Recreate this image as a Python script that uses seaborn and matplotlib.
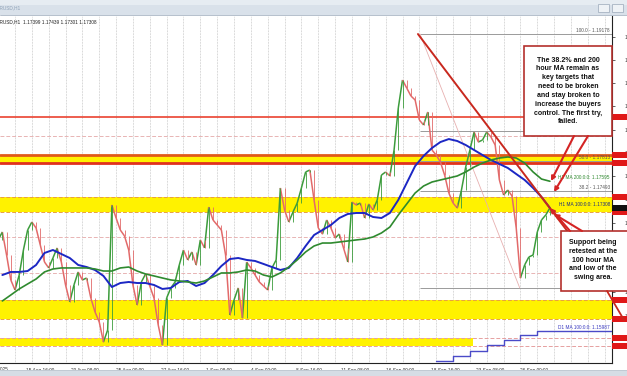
import numpy as np
import matplotlib
matplotlib.use("Agg")
import matplotlib.pyplot as plt
import matplotlib.transforms as mtransforms
from matplotlib.patches import Rectangle
from matplotlib.collections import LineCollection
import seaborn as sns

sns.set_style("white")
plt.rcParams['font.family'] = ['Liberation Sans', 'DejaVu Sans']

# ---------------- data (EURUSD H1) ----------------
candle_start_hour = -18
candle_step_hours = 6
first_open = 1.16964
close = [1.17050, 1.16802, 1.16534, 1.16426, 1.16587, 1.16856, 1.17071, 1.17157, 1.17093, 1.16910,
         1.16727, 1.16663, 1.16770, 1.16878, 1.16727, 1.16480, 1.16297, 1.16480, 1.16620, 1.16534,
         1.16555, 1.16340, 1.16190, 1.16082, 1.15867, 1.15996, 1.17340, 1.17200, 1.17071, 1.17007,
         1.16856, 1.16480, 1.16265, 1.16512, 1.16598, 1.16469, 1.16340, 1.16050, 1.15835, 1.16340,
         1.16448, 1.16512, 1.16695, 1.16856, 1.16749, 1.16835, 1.16695, 1.16964, 1.16878, 1.17318,
         1.17179, 1.17125, 1.17071, 1.16802, 1.16157, 1.16319, 1.16448, 1.16125, 1.16727, 1.16663,
         1.16587, 1.16512, 1.16469, 1.16426, 1.16663, 1.16749, 1.17523, 1.17286, 1.17157, 1.17265,
         1.17361, 1.17523, 1.17695, 1.17716, 1.17394, 1.17093, 1.17028, 1.17179, 1.17093, 1.16985,
         1.17028, 1.16878, 1.16727, 1.17372, 1.17340, 1.17361, 1.17200, 1.17351, 1.17286, 1.17394,
         1.17662, 1.17695, 1.17652, 1.17931, 1.18383, 1.18684, 1.18598, 1.18512, 1.18469, 1.18254,
         1.18200, 1.18340, 1.17931, 1.17877, 1.17802, 1.17662, 1.17469, 1.17361, 1.17308, 1.17501,
         1.17748, 1.17931, 1.18125, 1.18017, 1.18039, 1.18125, 1.18071, 1.17985, 1.17609, 1.17447,
         1.17501, 1.17437, 1.17093, 1.16555, 1.16695, 1.16781, 1.16802, 1.17050, 1.17179, 1.17232,
         1.17308]

ma_start_hour = -18
ma_step_hours = 12
h1_ma100 = [1.16587, 1.16620, 1.16620, 1.16630, 1.16695, 1.16824, 1.16856, 1.16813, 1.16770, 1.16695,
            1.16673, 1.16641, 1.16577, 1.16458, 1.16501, 1.16512, 1.16501, 1.16501, 1.16480, 1.16437,
            1.16448, 1.16512, 1.16523, 1.16469, 1.16501, 1.16587, 1.16684, 1.16759, 1.16770, 1.16749,
            1.16738, 1.16706, 1.16673, 1.16641, 1.16663, 1.16770, 1.16899, 1.17017, 1.17071, 1.17125,
            1.17200, 1.17243, 1.17254, 1.17254, 1.17211, 1.17200, 1.17254, 1.17394, 1.17576, 1.17759,
            1.17867, 1.17953, 1.18017, 1.18049, 1.18028, 1.17985, 1.17931, 1.17877, 1.17824, 1.17781,
            1.17738, 1.17673, 1.17609, 1.17523, 1.17426, 1.17308]
h1_ma200 = [1.16308, 1.16372, 1.16437, 1.16491, 1.16544, 1.16620, 1.16652, 1.16663, 1.16663, 1.16663,
            1.16663, 1.16652, 1.16630, 1.16630, 1.16663, 1.16673, 1.16630, 1.16598, 1.16577, 1.16555,
            1.16534, 1.16523, 1.16512, 1.16501, 1.16523, 1.16566, 1.16609, 1.16609, 1.16620, 1.16641,
            1.16630, 1.16587, 1.16566, 1.16609, 1.16673, 1.16749, 1.16835, 1.16899, 1.16931, 1.16931,
            1.16942, 1.16953, 1.16964, 1.16974, 1.16996, 1.17039, 1.17103, 1.17232, 1.17351, 1.17469,
            1.17544, 1.17587, 1.17609, 1.17630, 1.17652, 1.17695, 1.17748, 1.17791, 1.17824, 1.17845,
            1.17856, 1.17845, 1.17791, 1.17695, 1.17619, 1.17595]

d1_day_hours = [600, 624, 648, 672, 696, 720, 744]
d1_ma100 = [1.15663, 1.15717, 1.15770, 1.15835, 1.15889, 1.15942, 1.15987]

tick_hours = [16, 80, 144, 208, 272, 336, 400, 464, 528, 592, 656, 720]
tick_labels = ["15 Aug 16:00", "20 Aug 08:00", "25 Aug 00:00", "27 Aug 16:00", "1 Sep 08:00",
               "4 Sep 00:00", "8 Sep 16:00", "11 Sep 08:00", "16 Sep 00:00", "18 Sep 16:00",
               "23 Sep 08:00", "26 Sep 00:00"]
first_label_hour = -48
first_label = "13 Aug 2025"

red_level = 1.18286
top_band = [1.17791, 1.17877]
band_2 = [1.17262, 1.17430]
band_3 = [1.16114, 1.16319]
band_4 = [1.15824, 1.15911]
band_4_end_hour = 652
pink_dashed_levels = [1.18081, 1.16996, 1.16609]

fib_names = ["100.0", "61.8", "50.0", "38.2", "0.0"]
fib_levels = [1.19178, 1.18136, 1.17813, 1.17493, 1.16448]
fib_start_hour = 577
fib_low_hour = 719
trend_start = [574, 1.19178]
trend_end = [850.4, 1.16426]

ma200_label = "H1 MA 200:0:0: 1.17595"
ma100_label = "H1 MA 100:0:0: 1.17308"
d1_label = "D1 MA 100:0:0: 1.15987"
header_text = "EURUSD,H1  1.17399 1.17439 1.17301 1.17308"

# ---------------- figure ----------------
W, H = 627, 376
fig = plt.figure(figsize=(W / 100, H / 100), dpi=100)
fig.patch.set_facecolor("white")

ax = fig.add_axes([0, 1 - 363 / H, 612 / W, (363 - 16) / H])
xmin, xmax = -21.37, 850.43
ymin, ymax = 1.15641, 1.19372
ax.set_xlim(xmin, xmax)
ax.set_ylim(ymin, ymax)
ax.set_facecolor("white")

# vertical day grid (dotted)
for d in range(0, 36):
    ax.axvline(24 * d, color="#b4b4b4", lw=0.5, ls=(0, (1, 1.2)), zorder=0)

# bands and levels
YEL = "#fff200"
ax.axhspan(top_band[0], top_band[1], color=YEL, zorder=1, lw=0)
ax.axhspan(band_2[0], band_2[1], color=YEL, zorder=1, lw=0)
ax.axhspan(band_3[0], band_3[1], color=YEL, zorder=1, lw=0)
ax.fill_between([xmin, band_4_end_hour], band_4[0], band_4[1], color=YEL, zorder=1, lw=0)
for lv in band_2 + band_3:
    ax.axhline(lv, color="#e8a040", lw=0.7, ls=(0, (4, 2)), zorder=2)
for lv in band_4:
    ax.axhline(lv, color="#e6a0a0", lw=0.7, ls=(0, (4, 2)), zorder=2)
for lv in pink_dashed_levels:
    ax.axhline(lv, color="#e8b4b4", lw=0.7, ls=(0, (4, 2)), zorder=2)
ax.axhline(red_level, color="#e8321e", lw=1.1, zorder=2)
ax.axhline(top_band[1], color="#e05a1a", lw=2.0, zorder=2)
ax.axhline(top_band[0], color="#e0301e", lw=2.0, zorder=2)

# fibonacci
for name, lv in zip(fib_names, fib_levels):
    ax.hlines(lv, fib_start_hour, xmax, color="#9a9a9a", lw=0.7, zorder=2)
    if name != "0.0":
        ax.text(xmax - 3, lv + 0.00012, f"{name} - {lv:.5f}", ha="right", va="bottom",
                fontsize=3.4, color="#555555", zorder=6)
ax.plot([fib_start_hour, fib_low_hour], [fib_levels[0], fib_levels[-1]],
        color="#e7b0b0", lw=0.6, zorder=2)

# candles: each bar drawn from its open (previous close) to its close
hours_c = candle_start_hour + candle_step_hours * np.arange(len(close))
opens = np.r_[first_open, close[:-1]]
closes = np.asarray(close)
prev_h = np.r_[hours_c[0] - candle_step_hours, hours_c[:-1]]
segs = [[(x0, o), (x1, c)] for x0, x1, o, c in zip(prev_h, hours_c, opens, closes)]
cols = ["#3c9c3c" if c >= o else "#e26a6a" for o, c in zip(opens, closes)]
ax.add_collection(LineCollection(segs, colors=cols, linewidths=1.1, zorder=4))
ax.vlines(hours_c, np.minimum(opens, closes), np.maximum(opens, closes),
          colors=cols, lw=0.6, zorder=4)

# moving averages
hours_ma = ma_start_hour + ma_step_hours * np.arange(len(h1_ma100))
sns.lineplot(x=hours_ma, y=h1_ma100, color="#1c27c4", lw=1.4, ax=ax, zorder=5)
sns.lineplot(x=hours_ma, y=h1_ma200, color="#2f8a2f", lw=1.2, ax=ax, zorder=5)
sns.lineplot(x=d1_day_hours, y=d1_ma100, color="#4a4ac8", lw=1.0, ax=ax,
             drawstyle="steps-post", zorder=5)
ax.hlines(d1_ma100[-1], d1_day_hours[-1], xmax, color="#4a4ac8", lw=1.0, zorder=5)

# trend line
ax.plot([trend_start[0], trend_end[0]], [trend_start[1], trend_end[1]],
        color="#c8281e", lw=1.4, zorder=6)

# MA labels
ax.text(xmax - 3, h1_ma200[-1] + 0.00012, ma200_label, ha="right", va="bottom",
        fontsize=3.4, color="#2f8a2f", zorder=6)
ax.text(xmax - 3, h1_ma100[-1] + 0.00012, ma100_label, ha="right", va="bottom",
        fontsize=3.4, color="#1c2a80", zorder=6)
ax.text(xmax - 3, d1_ma100[-1] + 0.00012, d1_label, ha="right", va="bottom",
        fontsize=3.4, color="#3a3ac0", zorder=6)

# axes styling
for s in ["left", "top"]:
    ax.spines[s].set_visible(False)
ax.spines["right"].set_color("#222222")
ax.spines["right"].set_linewidth(0.8)
ax.spines["bottom"].set_color("#222222")
ax.spines["bottom"].set_linewidth(0.8)
ax.set_xticks(tick_hours)
ax.set_xticklabels(tick_labels, ha="left", fontsize=3.4, color="#333333")
ax.tick_params(axis="x", length=2, width=0.5, pad=1.5, direction="out")
ax.yaxis.tick_right()
yt = np.arange(1.1590, 1.1935, 0.0025)
ax.set_yticks(yt)
ax.set_yticklabels([f"{v:.5f}" for v in yt], fontsize=3.4, color="#333333")
ax.tick_params(axis="y", length=2, width=0.5, pad=7)
ax.set_xlabel("")
ax.set_ylabel("")
ax.text(first_label_hour, -0.012, first_label,
        transform=mtransforms.blended_transform_factory(ax.transData, ax.transAxes),
        ha="left", va="top", fontsize=3.4, color="#333333", clip_on=False)

# right-axis price markers
bt = mtransforms.blended_transform_factory(ax.transAxes, ax.transData)
marker_levels = [red_level, top_band[1], top_band[0], band_2[1], band_2[0],
                 band_3[1], band_3[0], band_4[1], band_4[0]]
for lv in marker_levels:
    ax.add_patch(Rectangle((1.0, lv - 0.00032), 0.03, 0.00064, transform=bt,
                           facecolor="#e01818", edgecolor="none", clip_on=False, zorder=7))
ax.add_patch(Rectangle((1.0, close[-1] - 0.00032), 0.03, 0.00064, transform=bt,
                       facecolor="#111111", edgecolor="none", clip_on=False, zorder=8))

# ---------------- overlay (pixel coordinates) ----------------
ov = fig.add_axes([0, 0, 1, 1], zorder=10)
ov.set_xlim(0, W)
ov.set_ylim(H, 0)
ov.axis("off")
ov.patch.set_alpha(0)

# window title bar
ov.add_patch(Rectangle((0, 0), W, 15, facecolor="#d9e1ea", edgecolor="none"))
ov.add_patch(Rectangle((0, 0), W, 5, facecolor="#e6ecf2", edgecolor="none"))
ov.plot([0, W], [15, 15], color="#aab6c4", lw=0.6)
ov.text(-6, 8, "EURUSD,H1", fontsize=3.4, color="#8fa2b8", va="center")
ov.add_patch(Rectangle((598, 4), 11, 8, facecolor="#eef2f6", edgecolor="#9aa8b8", lw=0.5))
ov.add_patch(Rectangle((612, 4), 11, 8, facecolor="#eef2f6", edgecolor="#9aa8b8", lw=0.5))
# bottom bar
ov.add_patch(Rectangle((0, 370), W, 6, facecolor="#d6dde5", edgecolor="none"))
ov.plot([0, W], [370, 370], color="#b8c2cc", lw=0.5)
# header text
ov.text(-7, 22, header_text, fontsize=3.4, color="#222222", va="center")

# annotation boxes
box_red = "#b4302c"
ov.add_patch(Rectangle((524, 46), 88, 90, facecolor="white", edgecolor=box_red, lw=1.2, zorder=3))
ov.text(568, 91, "The 38.2% and 200\nhour MA remain as\nkey targets that\nneed to be broken\n"
        "and stay broken to\nincrease the buyers\ncontrol. The first try,\nfailed.",
        ha="center", va="center", fontsize=5.0, fontweight="bold", color="#111111",
        linespacing=1.37, zorder=4)
ov.add_patch(Rectangle((561, 231), 70, 60, facecolor="white", edgecolor=box_red, lw=1.2, zorder=3))
ov.text(593, 260, "Support being\nretested at the\n100 hour MA\nand low of the\nswing area.",
        ha="center", va="center", fontsize=5.0, fontweight="bold", color="#111111",
        linespacing=1.37, zorder=4)

arrow_kw = dict(arrowstyle="-|>", color="#d42424", lw=1.5, mutation_scale=6, shrinkA=0, shrinkB=0)
ov.annotate("", xy=(551, 181), xytext=(574, 136), arrowprops=arrow_kw, zorder=5)
ov.annotate("", xy=(554, 192), xytext=(588, 136), arrowprops=arrow_kw, zorder=5)
ov.annotate("", xy=(550, 208), xytext=(570, 231), arrowprops=arrow_kw, zorder=5)
ov.annotate("", xy=(554, 214), xytext=(582, 231), arrowprops=arrow_kw, zorder=5)
ov.plot([607, 624], [291, 320], color="#c8281e", lw=1.3, zorder=5)

fig.savefig("out.png", dpi=100)
